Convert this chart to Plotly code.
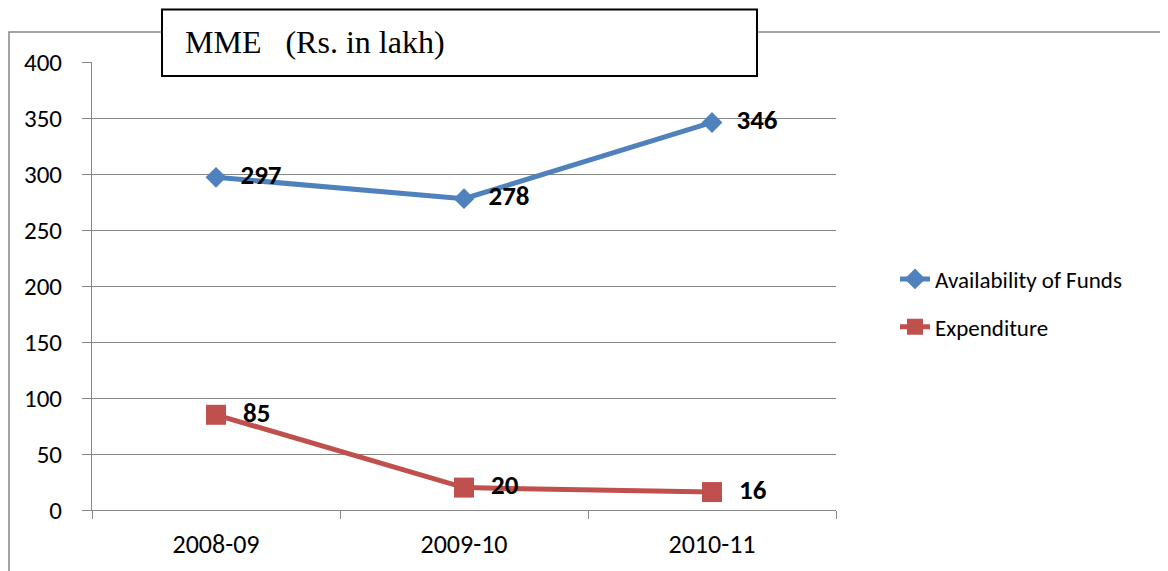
import plotly.graph_objects as go

categories = ["2008-09", "2009-10", "2010-11"]
availability = [297, 278, 346]
expenditure = [85, 20, 16]
y_ticks = [0, 50, 100, 150, 200, 250, 300, 350, 400]

FONT = "Carlito, Calibri, Lato, 'Liberation Sans', sans-serif"
BLUE = "#4F81BD"
RED = "#C0504D"
GRID = "#868686"

def lbl(vals):
    return ["&#8194;" + str(v) for v in vals]

fig = go.Figure()
fig.add_trace(go.Scatter(
    x=categories, y=availability, name="Availability of Funds",
    mode="lines+markers+text", text=lbl(availability),
    textposition="middle right",
    textfont=dict(family=FONT, size=27, color="black", weight="bold"),
    line=dict(color=BLUE, width=5),
    marker=dict(symbol="diamond", size=16, color=BLUE),
    legendgroup="a", cliponaxis=False,
))
fig.add_trace(go.Scatter(
    x=categories, y=expenditure, name="Expenditure",
    mode="lines+markers+text", text=lbl(expenditure),
    textposition="middle right",
    textfont=dict(family=FONT, size=27, color="black", weight="bold"),
    line=dict(color=RED, width=5),
    marker=dict(symbol="square", size=20, color=RED),
    legendgroup="b", cliponaxis=False,
))

OFF = 8  # page body margin
W, H = 1168 - OFF, 571 - OFF
# plot area in page pixel coordinates
L, R, T, B = 92, 836, 62, 510
pw, ph = R - L, B - T

def px(x):
    return (x - L) / pw

def py(y):
    return (B - y) / ph

fig.update_layout(
    width=W, height=H,
    margin=dict(l=L - OFF, r=W - (R - OFF), t=T - OFF, b=H - (B - OFF)),
    paper_bgcolor="white", plot_bgcolor="white",
    font=dict(family=FONT, size=26, color="black"),
    showlegend=True,
    legend=dict(x=px(895), y=py(303), xanchor="left", yanchor="middle",
                font=dict(family=FONT, size=23, color="black"),
                tracegroupgap=15, bgcolor="rgba(0,0,0,0)"),
    xaxis=dict(type="category", tickson="boundaries", ticks="outside", ticklen=8,
               tickcolor=GRID, showline=True, linecolor=GRID, linewidth=1,
               showgrid=False, tickfont=dict(family=FONT, size=26, color="black"),
               range=[-0.5, 2.5], ticklabelstandoff=11),
    yaxis=dict(range=[0, 400], tickvals=y_ticks, ticks="outside", ticklen=9,
               tickcolor=GRID, showline=True, linecolor=GRID, linewidth=1,
               showgrid=True, gridcolor=GRID, gridwidth=1, zeroline=False,
               tickfont=dict(family=FONT, size=25, color="black"),
               ticklabelstandoff=15),
    shapes=[
        dict(type="rect", xref="paper", yref="paper",
             x0=px(9), x1=px(1200), y0=py(32), y1=py(620),
             line=dict(color=GRID, width=1.5), fillcolor="rgba(0,0,0,0)", layer="below"),
        dict(type="rect", xref="paper", yref="paper",
             x0=px(162), x1=px(757), y0=py(76), y1=py(9.5),
             line=dict(color="black", width=2), fillcolor="white", layer="above"),
    ],
    annotations=[
        dict(text="MME&nbsp;&nbsp;&nbsp;(Rs. in lakh)", xref="paper", yref="paper",
             x=px(183), y=py(42), xanchor="left", yanchor="middle", showarrow=False,
             font=dict(family="'Liberation Serif', 'Times New Roman', serif", size=32, color="black")),
    ],
)

fig.write_html("out.html")
